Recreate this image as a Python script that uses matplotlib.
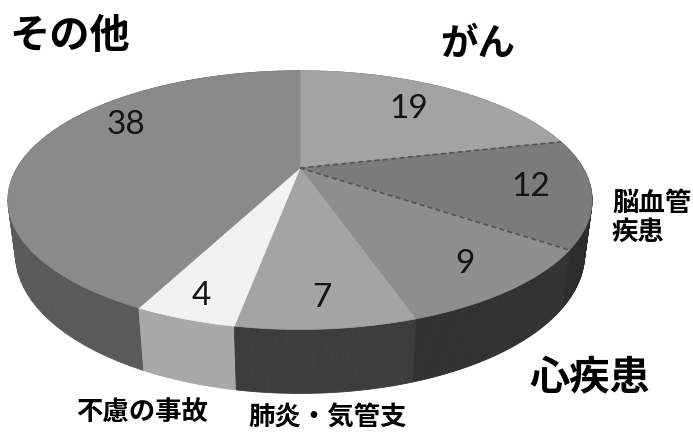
import numpy as np
import matplotlib
matplotlib.use("Agg")
import matplotlib.pyplot as plt
from matplotlib.patches import Polygon

plt.rcParams['font.family'] = ['Noto Sans CJK JP', 'DejaVu Sans']

# data (order clockwise from 12 o'clock)
labels = ['がん', '脳血管\n疾患', '心疾患', '肺炎・気管支', '不慮の事故', 'その他']
values = [19, 12, 9, 7, 4, 38]

top_colors = ['#a3a3a3', '#7c7c7c', '#8e8e8e', '#a4a4a4', '#f2f2f2', '#8a8a8a']
side_colors = ['#6e6e6e', '#2c2c2c', '#323232', '#3c3c3c', '#a8a8a8', '#5a5a5a']

# perspective of the "3d" pie (pixel space)
cx, cy = 300, 168
f, D = 1030, 3.64
elev = np.radians(25.4)
s, c = np.sin(elev), np.cos(elev)
H = 0.21


def proj(u, v, h=0.0):
    depth = D + v * c + h * s
    up = v * s - h * c
    return cx + f * u / depth, cy - f * up / depth


total = sum(values)
ang = 90 - np.cumsum([0] + values) / total * 360  # clockwise

fig = plt.figure(figsize=(6.93, 4.34), dpi=100)
ax = fig.add_axes([0, 0, 1, 1])
ax.set_xlim(0, 693)
ax.set_ylim(434, 0)
ax.axis('off')

# side walls, far segments first
segs = []
for i in range(len(values)):
    t = np.radians(np.linspace(ang[i], ang[i + 1], 60))
    for a, b in zip(t[:-1], t[1:]):
        pts = [proj(np.cos(a), np.sin(a)), proj(np.cos(b), np.sin(b)),
               proj(np.cos(b), np.sin(b), H), proj(np.cos(a), np.sin(a), H)]
        segs.append((np.sin((a + b) / 2), pts, side_colors[i]))
segs.sort(key=lambda x: -x[0])
for _, pts, col in segs:
    ax.add_patch(Polygon(pts, closed=True, facecolor=col, edgecolor=col, lw=0.6))

# top faces
for i in range(len(values)):
    t = np.radians(np.linspace(ang[i], ang[i + 1], 100))
    pts = [proj(0, 0)] + [proj(np.cos(a), np.sin(a)) for a in t]
    ax.add_patch(Polygon(pts, closed=True, facecolor=top_colors[i],
                         edgecolor=top_colors[i], lw=0.5))

# dashed edges around 脳血管疾患
for a in [ang[1], ang[2]]:
    x0, y0 = proj(0, 0)
    x1, y1 = proj(np.cos(np.radians(a)), np.sin(np.radians(a)))
    ax.plot([x0, x1], [y0, y1], color='#555555', lw=1.2, ls=(0, (3, 2)))

# value labels
label_r = [0.7, 0.8, 0.82, 0.85, 0.88, 0.78]
label_shift = [0, 0, 0, 0, 0, -17]
for i, v in enumerate(values):
    m = np.radians((ang[i] + ang[i + 1]) / 2 + label_shift[i])
    x, y = proj(label_r[i] * np.cos(m), label_r[i] * np.sin(m))
    ax.text(x, y, str(v), ha='center', va='center', fontsize=24,
            color='#141414', family=['Lato', 'DejaVu Sans'])

# category labels
name_pos = [(478, 43), (612, 218), (590, 378), (328, 418), (142, 413), (70, 36)]
name_size = [27, 19, 29, 19, 19, 29]
name_ha = ['center', 'left', 'center', 'center', 'center', 'center']
for i, name in enumerate(labels):
    ax.text(name_pos[i][0], name_pos[i][1], name, ha=name_ha[i], va='center',
            fontsize=name_size[i], fontweight='bold', color='black',
            linespacing=1.1)

fig.savefig('out.png', dpi=100)
